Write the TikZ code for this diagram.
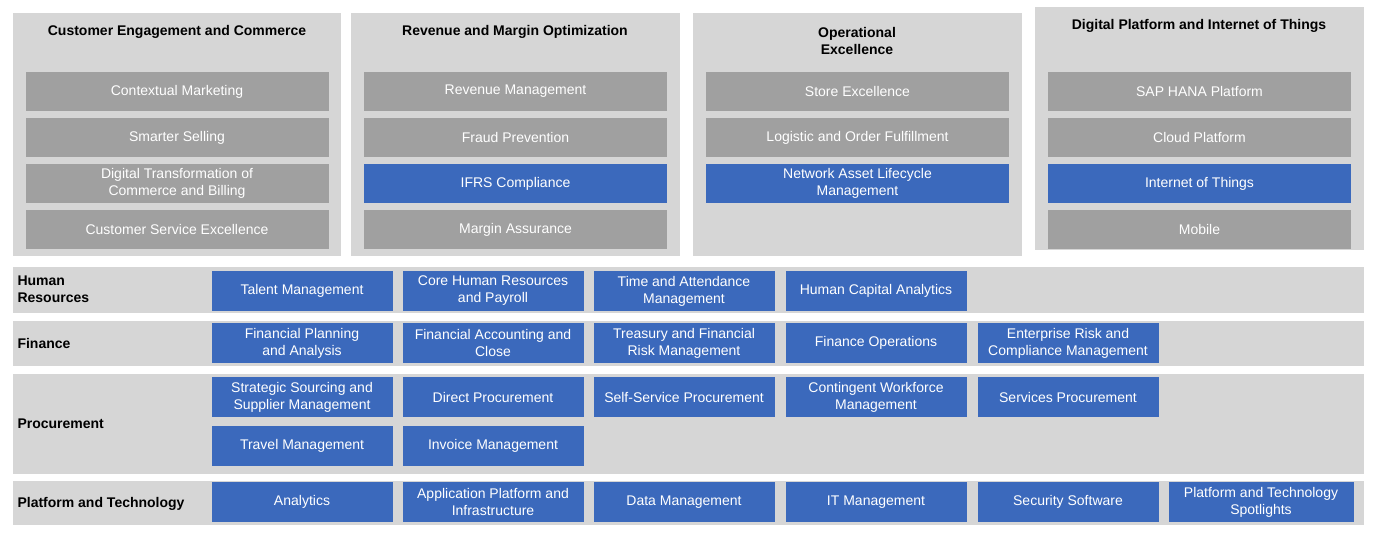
\documentclass[tikz,border=0pt]{standalone}
\usepackage{fontspec}
\setmainfont{Liberation Sans}
\definecolor{panel}{HTML}{D6D6D6}
\definecolor{dgrey}{HTML}{A0A0A0}
\definecolor{sblue}{HTML}{3B69BC}
\begin{document}
\begin{tikzpicture}[x=1pt,y=-1pt,
  panelbox/.style={fill=panel,draw=none},
  gbox/.style={fill=dgrey,draw=none,text=white,align=center,inner sep=0pt,font=\fontsize{14}{17}\selectfont},
  bbox/.style={fill=sblue,draw=none,text=white,align=center,inner sep=0pt,font=\fontsize{14}{17}\selectfont},
  ttl/.style={font=\fontsize{14}{17}\selectfont\bfseries,align=center},
  rowlbl/.style={font=\fontsize{14}{17}\selectfont\bfseries,align=left,anchor=west}]
\useasboundingbox (0,0) rectangle (1379,540);
% top panels
\fill[panelbox] (13,13) rectangle (341,256);
\fill[panelbox] (351,13) rectangle (680,256);
\fill[panelbox] (693,13) rectangle (1022,256);
\fill[panelbox] (1035,7) rectangle (1364,250);
\node[ttl] (t1) at (177,32) {Customer Engagement and Commerce};
\node[ttl] (t2) at (515,32) {Revenue and Margin Optimization};
\node[ttl] (t3) at (857,41) {Operational\\Excellence};
\node[ttl] (t4) at (1199,26) {Digital Platform and Internet of Things};
\newcommand{\tb}[5]{\node[#1,minimum width=303pt,minimum height=39pt] (#2) at (#3,#4) {#5};}
\tb{gbox}{a1}{177}{91.5}{Contextual Marketing}
\tb{gbox}{a2}{177}{137.5}{Smarter Selling}
\tb{gbox}{a3}{177}{183.5}{Digital Transformation of\\Commerce and Billing}
\tb{gbox}{a4}{177}{229.5}{Customer Service Excellence}
\tb{gbox}{b1}{515.5}{91.5}{Revenue Management}
\tb{gbox}{b2}{515.5}{137.5}{Fraud Prevention}
\tb{bbox}{b3}{515.5}{183.5}{IFRS Compliance}
\tb{gbox}{b4}{515.5}{229.5}{Margin Assurance}
\tb{gbox}{c1}{857.5}{91.5}{Store Excellence}
\tb{gbox}{c2}{857.5}{137.5}{Logistic and Order Fulfillment}
\tb{bbox}{c3}{857.5}{183.5}{Network Asset Lifecycle\\Management}
\tb{gbox}{d1}{1199.5}{91.5}{SAP HANA Platform}
\tb{gbox}{d2}{1199.5}{137.5}{Cloud Platform}
\tb{bbox}{d3}{1199.5}{183.5}{Internet of Things}
\tb{gbox}{d4}{1199.5}{229.5}{Mobile}
% rows
\fill[panelbox] (13,267) rectangle (1364,313);
\fill[panelbox] (13,321) rectangle (1364,366);
\fill[panelbox] (13,374) rectangle (1364,474);
\fill[panelbox] (13,481) rectangle (1364,525);
\node[rowlbl] (lhr) at (14,289) {Human\\Resources};
\node[rowlbl] (lfi) at (14,343.5) {Finance};
\node[rowlbl] (lpr) at (14,424) {Procurement};
\node[rowlbl] (lpt) at (14,503.5) {Platform and Technology};
\newcommand{\rb}[5]{\node[bbox,minimum width=#5,minimum height=40pt] (#1) at (#2,#3) {#4};}
\rb{h1}{302}{291}{Talent Management}{181pt}
\rb{h2}{493}{291}{Core Human Resources\\and Payroll}{181pt}
\rb{h3}{684}{291}{Time and Attendance\\Management}{181pt}
\rb{h4}{876}{291}{Human Capital Analytics}{181pt}
\rb{f1}{302}{343}{Financial Planning\\and Analysis}{181pt}
\rb{f2}{493}{343}{Financial Accounting and\\Close}{181pt}
\rb{f3}{684}{343}{Treasury and Financial\\Risk Management}{181pt}
\rb{f4}{876}{343}{Finance Operations}{181pt}
\rb{f5}{1068}{343}{Enterprise Risk and\\Compliance Management}{181pt}
\rb{p1}{302}{397}{Strategic Sourcing and\\Supplier Management}{181pt}
\rb{p2}{493}{397}{Direct Procurement}{181pt}
\rb{p3}{684}{397}{Self-Service Procurement}{181pt}
\rb{p4}{876}{397}{Contingent Workforce\\Management}{181pt}
\rb{p5}{1068}{397}{Services Procurement}{181pt}
\rb{p6}{302}{446}{Travel Management}{181pt}
\rb{p7}{493}{446}{Invoice Management}{181pt}
\rb{s1}{302}{502}{Analytics}{181pt}
\rb{s2}{493}{502}{Application Platform and\\Infrastructure}{181pt}
\rb{s3}{684}{502}{Data Management}{181pt}
\rb{s4}{876}{502}{IT Management}{181pt}
\rb{s5}{1068}{502}{Security Software}{181pt}
\rb{s6}{1261}{502}{Platform and Technology\\Spotlights}{185pt}
\end{tikzpicture}
\end{document}
